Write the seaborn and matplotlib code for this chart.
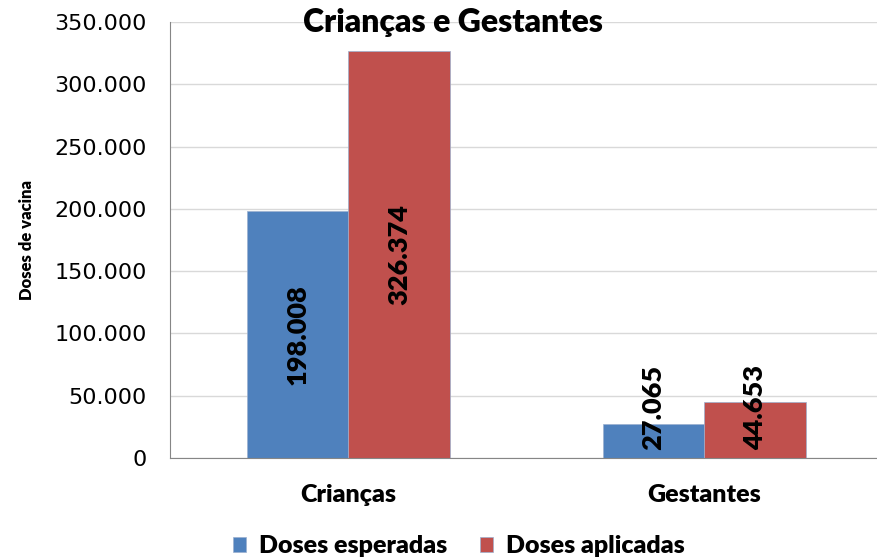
import pandas as pd
import matplotlib.pyplot as plt
import seaborn as sns
from matplotlib.ticker import FuncFormatter, FixedLocator

# Dados
categorias = ['Crianças', 'Gestantes']
doses_esperadas = [198008, 27065]
doses_aplicadas = [326374, 44653]
series = ['Doses esperadas', 'Doses aplicadas']

data = pd.DataFrame({
    'Grupo': categorias * 2,
    'Série': [series[0]] * 2 + [series[1]] * 2,
    'Doses': doses_esperadas + doses_aplicadas,
})

sns.set_style('white')
plt.rcParams['font.family'] = ['Lato', 'DejaVu Sans']
plt.rcParams['text.color'] = 'black'
plt.rcParams['axes.labelcolor'] = 'black'
plt.rcParams['xtick.color'] = 'black'
plt.rcParams['ytick.color'] = 'black'
PESO = 'heavy'

fig = plt.figure(figsize=(8.77, 5.59), dpi=100)
ax = fig.add_axes([0.194, 0.1807, 0.812, 0.78])

sns.barplot(data=data, x='Grupo', y='Doses', hue='Série', order=categorias,
            hue_order=series, palette=['#4F81BD', '#C0504D'], width=0.57,
            saturation=1, ax=ax, edgecolor='#9BB0D0', linewidth=0.5)

ax.set_ylim(0, 350000)
ax.set_xlim(-0.5, 1.5)
ax.yaxis.set_major_locator(FixedLocator(range(0, 350001, 50000)))
ax.yaxis.set_major_formatter(FuncFormatter(lambda v, p: f'{int(v):,}'.replace(',', '.')))
ax.grid(axis='y', color='#D9D9D9', linewidth=1)
ax.set_axisbelow(True)

for lbl in ax.get_yticklabels():
    lbl.set_family('DejaVu Sans')
    lbl.set_fontsize(16)
ax.tick_params(axis='y', length=7, color='#868686', labelcolor='black', pad=10)
ax.tick_params(axis='x', which='major', length=0, pad=19, labelcolor='black')
ax.set_xticks([-0.5, 0.5, 1.5], minor=True)
ax.tick_params(axis='x', which='minor', length=7, color='#868686')
ax.set_xticks(range(len(categorias)))
ax.set_xticklabels(categorias, fontsize=18, fontweight=PESO)

for s in ['top', 'right']:
    ax.spines[s].set_visible(False)
for s in ['left', 'bottom']:
    ax.spines[s].set_color('#868686')

ax.set_xlabel('')
ax.set_ylabel('Doses de vacina', fontsize=12, fontweight=PESO, labelpad=14,
              color='black')

# Rótulos das barras
for cont in ax.containers:
    for bar in cont:
        h = bar.get_height()
        x = bar.get_x() + bar.get_width() / 2
        txt = f'{int(h):,}'.replace(',', '.')
        if h > 100000:
            ax.text(x, h / 2, txt, rotation=90, ha='center', va='center',
                    fontsize=19.5, fontweight=PESO, color='black')
        else:
            ax.annotate(txt, (x, 0), xytext=(0, 6), textcoords='offset points',
                        rotation=90, ha='center', va='bottom',
                        fontsize=19.5, fontweight=PESO, color='black')

fig.text(0.517, 0.96, 'Crianças e Gestantes', ha='center', va='center',
         fontsize=23, fontweight=PESO, color='black')

ax.legend(loc='upper center', bbox_to_anchor=(0.405, -0.125), ncol=2,
          frameon=False, prop={'weight': PESO, 'size': 18},
          handlelength=0.55, handleheight=0.55, columnspacing=1.3, handletextpad=0.5)

fig.savefig('out.png', dpi=100)
